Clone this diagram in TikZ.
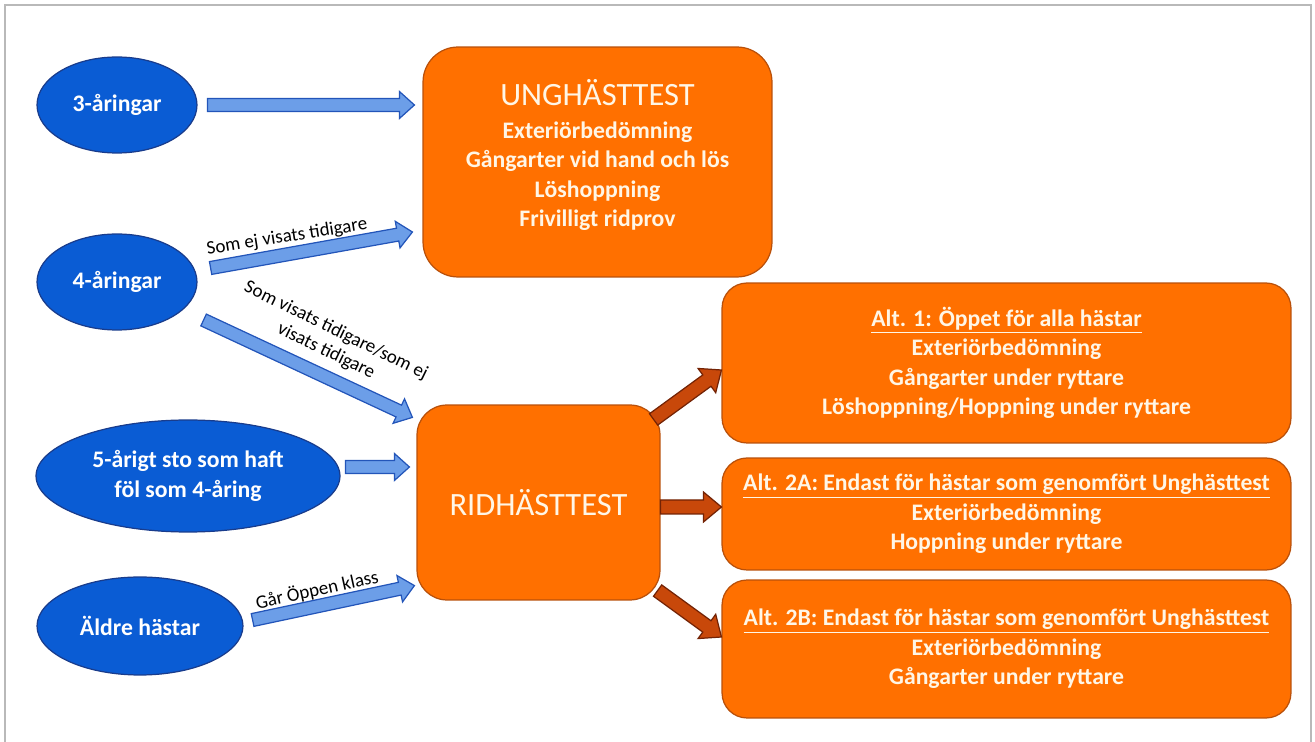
\documentclass[tikz,border=0pt]{standalone}
\usepackage{fontspec}
\setmainfont{Carlito}
\usetikzlibrary{shapes.geometric,calc}

\definecolor{ageblue}{RGB}{10,92,212}
\definecolor{agerand}{RGB}{25,60,140}
\definecolor{pilblue}{RGB}{108,158,232}
\definecolor{pilrand}{RGB}{35,85,185}
\definecolor{boxorange}{RGB}{255,112,0}
\definecolor{boxrand}{RGB}{185,80,10}
\definecolor{boxtext}{RGB}{255,246,230}
\definecolor{brunfill}{RGB}{200,72,10}
\definecolor{brunrand}{RGB}{115,35,5}
\definecolor{ram}{RGB}{185,185,185}

\newcommand\titel{\mdseries\fontsize{18.5}{22}\selectfont}

% block arrow: style, from, to, half shaft, half head, head length
\newcommand\blockpil[6]{%
  \path (#2) coordinate (bp-s) (#3) coordinate (bp-e);
  \path ($(bp-e)!#6!(bp-s)$) coordinate (bp-n);
  \draw[#1] ($(bp-s)!#4!90:(bp-e)$) -- ($(bp-n)!#4!-90:(bp-s)$)
    -- ($(bp-n)!#5!-90:(bp-s)$) -- (bp-e) -- ($(bp-n)!#5!90:(bp-s)$)
    -- ($(bp-n)!#4!90:(bp-s)$) -- ($(bp-s)!#4!-90:(bp-e)$) -- cycle;
}
\newcommand\bluepil[2]{\blockpil{bluepil}{#1}{#2}{0.13cm}{0.27cm}{0.3cm}}
\newcommand\brunpil[2]{\blockpil{brunpil}{#1}{#2}{0.14cm}{0.3cm}{0.36cm}}

\tikzset{
  age/.style={ellipse, draw=agerand, fill=ageblue, line width=0.7pt, text=white,
    font=\bfseries\fontsize{13.5}{16.7}\selectfont, align=center, inner sep=0pt},
  testbox/.style={rectangle, draw=boxrand, fill=boxorange, line width=0.7pt, text=boxtext,
    font=\bfseries\fontsize{13.5}{16.7}\selectfont, align=center, inner sep=0pt},
  bluepil/.style={draw=pilrand, fill=pilblue, line width=0.7pt},
  brunpil/.style={draw=brunrand, fill=brunfill, line width=0.7pt},
  note/.style={font=\fontsize{10.8}{13}\selectfont, inner sep=0pt, align=center},
}

\begin{document}
\begin{tikzpicture}[x=0.02cm, y=-0.02cm]
\useasboundingbox (0,0) rectangle (1315,742);
\draw[ram, line width=1.2pt] (5,742) -- (5,5) -- (1311,5) -- (1311,742);

% ages
\node[age, minimum width=3.2cm, minimum height=1.92cm] (y3) at (117,105) {3-åringar};
\node[age, minimum width=3.2cm, minimum height=1.92cm] (y4) at (117,282) {4-åringar};
\node[age, minimum width=6.08cm, minimum height=2.24cm] (y5) at (188,476) {5-årigt sto som haft\\föl som 4-åring};
\node[age, minimum width=4.12cm, minimum height=1.96cm] (yold) at (140,626) {Äldre hästar};

% tests
\node[testbox, rounded corners=0.7cm, minimum width=6.98cm, minimum height=4.6cm, text depth=0.36cm] (ung) at (597.5,162)
  {{\titel UNGHÄSTTEST}\\[2pt]Exteriörbedömning\\Gångarter vid hand och lös\\Löshoppning\\Frivilligt ridprov};
\node[testbox, rounded corners=0.6cm, minimum width=4.86cm, minimum height=3.9cm] (rid) at (538.5,502.5)
  {\titel RIDHÄSTTEST};
\node[testbox, rounded corners=0.5cm, minimum width=11.38cm, minimum height=3.2cm] (alt1) at (1006.5,363)
  {\underline{Alt. 1: Öppet för alla hästar}\\Exteriörbedömning\\Gångarter under ryttare\\Löshoppning/Hoppning under ryttare};
\node[testbox, rounded corners=0.5cm, minimum width=11.38cm, minimum height=2.24cm] (alt2a) at (1006.5,514)
  {\underline{Alt. 2A: Endast för hästar som genomfört Unghästtest}\\Exteriörbedömning\\Hoppning under ryttare};
\node[testbox, rounded corners=0.5cm, minimum width=11.38cm, minimum height=2.76cm] (alt2b) at (1006.5,649)
  {\underline{Alt. 2B: Endast för hästar som genomfört Unghästtest}\\Exteriörbedömning\\Gångarter under ryttare};

% arrows in
\bluepil{$(y3.east)+(10,0)$}{$(ung.west |- y3)+(-8,0)$}
\bluepil{$(y4.east)+(13,-14)$}{$(ung.west)+(-10,70)$}
\bluepil{$(y4.east)+(6,38)$}{$(rid.north west)+(-4,13)$}
\bluepil{$(y5.east)+(5,-9)$}{$(rid.west)+(-7,-35.5)$}
\bluepil{$(yold.east)+(9,-6)$}{$(rid.south west)+(-2,-15)$}

\node[note, rotate=9] (l4a) at (287,237) {Som ej visats tidigare};
\node[note, rotate=-26] (l4b) at (331,341) {Som visats tidigare/som ej\\visats tidigare};
\node[note, rotate=12.5] (lold) at (317,590) {Går Öppen klass};

% arrows out
\brunpil{$(rid.north east)+(-7,15)$}{$(alt1.west)+(0,7)$}
\brunpil{$(rid.east)+(0,4.5)$}{$(alt2a.west)+(0,-7)$}
\brunpil{$(rid.south east)+(-3,-10)$}{$(alt2b.west)+(0,-12)$}
\end{tikzpicture}
\end{document}
